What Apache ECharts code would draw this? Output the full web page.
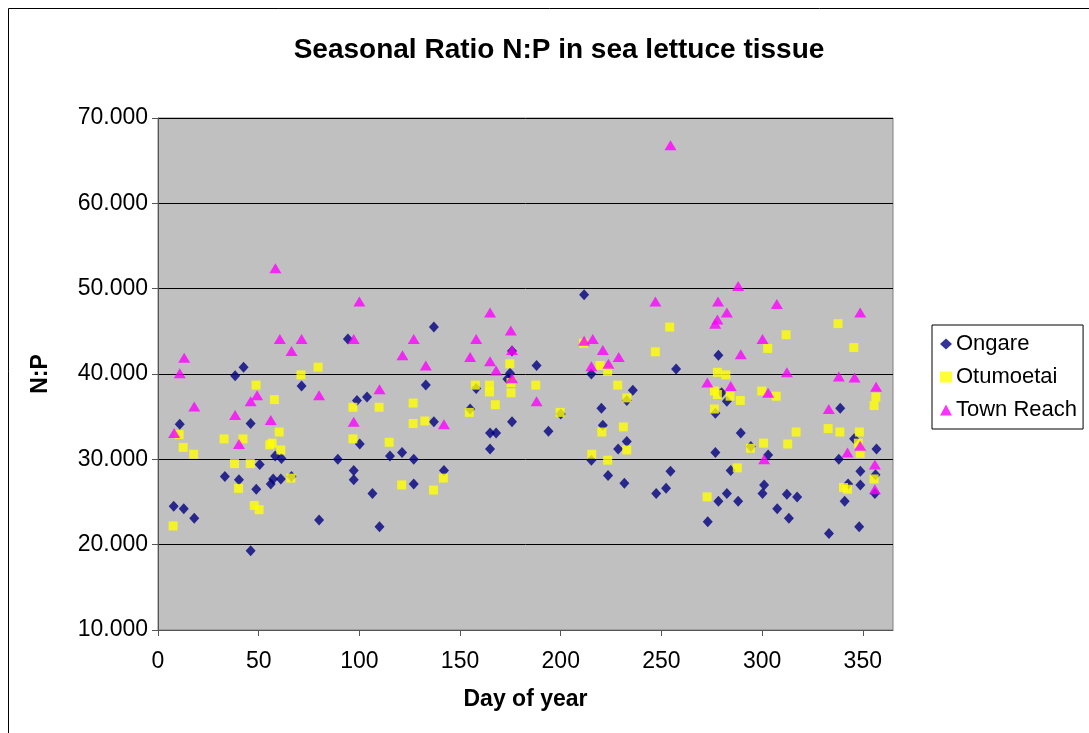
<!DOCTYPE html>
<html>
<head>
<meta charset="utf-8">
<script src="https://cdn.jsdelivr.net/npm/echarts@6/dist/echarts.min.js"></script>
<style>
    html, body { margin: 0; padding: 0; background: #fff; }
    #chart-np-ratio { width: 1089px; height: 733px; }
</style>
</head>
<body>
<div id="chart-np-ratio"></div>
<script>
// [day of year, N:P]
let ongareData = [
    [7.8, 24.5], [10.8, 34.1], [12.8, 24.2], [18, 23.1], [33.2, 28.0], [38.3, 39.8], [40.2, 27.6],
    [42.5, 40.8], [46, 34.2], [46, 19.3], [48.8, 26.5], [50.5, 29.4], [56, 27.1], [57.2, 27.7],
    [58.2, 30.4], [61, 27.7], [61.3, 30.1], [66.3, 28.0], [71.3, 38.6], [80, 22.9], [89.3, 30.0],
    [94.3, 44.1], [97.2, 28.7], [97.2, 27.6], [98.8, 36.9], [100.2, 31.8], [103.8, 37.3],
    [106.5, 26.0], [110, 22.1], [115.2, 30.4], [121.2, 30.8], [127, 30.0], [127, 27.1],
    [133, 38.7], [137, 45.5], [137, 34.4], [142, 28.7], [155, 35.9], [158, 38.3], [164.9, 33.1],
    [167.9, 33.1], [164.9, 31.2], [175.8, 42.7], [174.8, 40.1], [173.5, 39.4], [175.8, 34.4],
    [188, 41.0], [193.9, 33.3], [200, 35.3], [211.6, 49.3], [215.2, 40.0], [215.2, 29.9],
    [220.2, 36.0], [220.9, 34.0], [228.5, 31.2], [223.5, 28.1], [231.6, 27.2], [232.8, 32.1],
    [232.8, 36.9], [235.8, 38.1], [247.4, 26.0], [252.3, 26.6], [254.5, 28.6], [257.3, 40.6],
    [273, 22.7], [276.8, 30.8], [276.8, 35.4], [278.3, 42.2], [279.9, 37.8], [278.3, 25.1],
    [282.5, 36.8], [282.5, 26.0], [284.4, 28.7], [288.1, 25.1], [289.4, 33.1], [294.4, 31.5],
    [301, 27.0], [300.2, 26.0], [303, 30.5], [307.5, 24.2], [312.3, 25.9], [313.3, 23.1],
    [317.4, 25.6], [333.2, 21.3], [338.8, 36.0], [338.1, 30.0], [341, 25.1], [342.7, 27.1],
    [345.7, 32.4], [348.2, 22.1], [348.8, 28.6], [348.8, 27.0], [356.8, 31.2], [356.3, 28.2],
    [356, 26.0]
];
let otumoetaiData = [
    [7.5, 22.2], [10.5, 32.9], [12.5, 31.4], [17.7, 30.6], [32.8, 32.4], [38, 29.5], [40, 26.6],
    [42.2, 32.4], [45.8, 29.5], [47.8, 24.6], [50.2, 24.1], [48.7, 38.7], [57.8, 37.0],
    [55.5, 31.7], [56.7, 31.9], [60.2, 33.2], [61, 31.1], [66, 27.8], [71, 39.9], [79.5, 40.8],
    [96.8, 36.1], [96.8, 32.4], [109.8, 36.1], [114.8, 32.0], [121, 27.0], [126.7, 36.6],
    [126.7, 34.2], [132.5, 34.5], [136.8, 26.4], [141.7, 27.8], [154.6, 35.5], [157.6, 38.7],
    [164.6, 38.7], [164.6, 37.9], [167.5, 36.4], [174.7, 41.2], [175.3, 39.0], [175.3, 37.8],
    [187.6, 38.7], [199.7, 35.5], [211.3, 43.6], [215.4, 30.6], [219.5, 41.0], [223.3, 40.3],
    [228.3, 38.7], [220.4, 33.2], [223.3, 29.9], [231.1, 33.8], [232.8, 31.1], [232.8, 37.2],
    [247, 42.6], [254.1, 45.5], [272.7, 25.6], [276.3, 35.9], [276.3, 38.0], [277.8, 37.6],
    [277.8, 40.2], [282, 39.9], [284.1, 37.4], [289.2, 36.9], [287.7, 29.0], [294.2, 31.3],
    [299.8, 38.0], [300.7, 31.9], [302.8, 43.0], [307, 37.4], [311.9, 44.6], [312.7, 31.8],
    [316.9, 33.2], [332.8, 33.6], [337.7, 45.9], [338.6, 33.2], [340.4, 26.7], [342.4, 26.5],
    [345.5, 43.1], [348.3, 33.2], [347.8, 31.9], [348.7, 30.7], [355.6, 36.3], [356.5, 37.3],
    [355.6, 27.7]
];
let townReachData = [
    [8, 33.1], [10.8, 40.1], [13, 41.9], [18, 36.2], [38.3, 35.2], [40.2, 31.8], [46, 36.8],
    [49.2, 37.5], [56, 34.6], [58.3, 52.4], [60.5, 44.1], [66.3, 42.7], [71.3, 44.1], [80, 37.5],
    [97.2, 44.1], [100, 48.5], [97.2, 34.4], [110, 38.2], [121.4, 42.2], [127, 44.1], [133, 41.0],
    [142, 34.1], [155, 42.0], [158, 44.1], [164.9, 47.2], [164.9, 41.5], [167.9, 40.4],
    [175.2, 45.1], [175.8, 42.8], [175.8, 39.5], [188, 36.8], [211.6, 43.9], [215.9, 44.1],
    [215.2, 40.9], [220.9, 42.8], [223.7, 41.2], [228.8, 42.0], [247, 48.5], [254.5, 66.8],
    [272.8, 39.0], [276.7, 45.9], [277.8, 46.4], [278.1, 48.5], [282.5, 47.2], [284.4, 38.6],
    [288.1, 50.3], [289.4, 42.3], [300.2, 44.1], [301, 30.0], [303, 37.8], [307.3, 48.2],
    [312.3, 40.2], [333.1, 35.9], [338.1, 39.7], [342.4, 30.8], [345.9, 39.6], [348.7, 47.2],
    [348.7, 31.6], [356.6, 38.5], [356, 29.4], [356, 26.5]
];
let seriesNames = ['Ongare', 'Otumoetai', 'Town Reach'];

let fontFamily = 'Arial, "Liberation Sans", sans-serif';

function chartScatterNpRatio(element) {
    let chartDom = document.getElementById(element);
    let myChart = echarts.init(chartDom, null, {renderer: 'canvas'});
    let option = {
        backgroundColor: '#ffffff',
        animation: false,
        textStyle: {fontFamily: fontFamily},
        title: {
            text: 'Seasonal Ratio N:P in sea lettuce tissue',
            left: 554,
            top: 31,
            textAlign: 'center',
            textStyle: {fontSize: 28, fontWeight: 'bold', color: '#000', fontFamily: fontFamily}
        },
        legend: {
            orient: 'vertical',
            left: 932,
            top: 325,
            padding: [8, 6, 8, 8],
            itemGap: 11,
            itemWidth: 12,
            itemHeight: 11,
            backgroundColor: '#ffffff',
            borderColor: '#000000',
            borderWidth: 1,
            borderRadius: 0,
            data: seriesNames,
            textStyle: {fontSize: 22, color: '#000', fontFamily: fontFamily, padding: [0, 0, 0, -1]}
        },
        grid: {
            left: 158,
            right: 196,
            top: 118,
            bottom: 103,
            show: true,
            backgroundColor: '#c0c0c0',
            borderColor: '#808080',
            borderWidth: 1
        },
        xAxis: {
            type: 'value',
            min: 0,
            max: 365,
            interval: 50,
            name: 'Day of year',
            nameLocation: 'middle',
            nameGap: 58,
            nameTextStyle: {fontSize: 23, fontWeight: 'bold', color: '#000'},
            axisLine: {show: true, lineStyle: {color: '#555', width: 1}},
            axisTick: {show: true, inside: false, length: 6, lineStyle: {color: '#555'}},
            axisLabel: {fontSize: 23, color: '#000', margin: 20, showMaxLabel: false},
            splitLine: {show: false}
        },
        yAxis: {
            type: 'value',
            min: 10,
            max: 70,
            interval: 10,
            name: 'N:P',
            nameLocation: 'middle',
            nameGap: 106,
            nameTextStyle: {fontSize: 23, fontWeight: 'bold', color: '#000'},
            axisLine: {show: true, lineStyle: {color: '#555', width: 1}},
            axisTick: {show: true, inside: false, length: 6, lineStyle: {color: '#555'}},
            axisLabel: {
                fontSize: 23,
                color: '#000',
                margin: 10,
                formatter: function (value) {
                    return value.toFixed(3);
                }
            },
            splitLine: {show: true, lineStyle: {color: '#000', width: 1}}
        },
        series: [
            {
                name: seriesNames[0],
                type: 'scatter',
                symbol: 'diamond',
                symbolSize: [10, 11],
                itemStyle: {color: '#000080'},
                data: ongareData
            },
            {
                name: seriesNames[1],
                type: 'scatter',
                symbol: 'rect',
                symbolSize: 9,
                itemStyle: {color: '#ffff00'},
                data: otumoetaiData
            },
            {
                name: seriesNames[2],
                type: 'scatter',
                symbol: 'triangle',
                symbolSize: [12, 10],
                itemStyle: {color: '#ff00ff'},
                data: townReachData
            }
        ],
        graphic: [
            {
                type: 'rect',
                silent: true,
                shape: {x: 8.5, y: 8.5, width: 1200, height: 800},
                style: {fill: null, stroke: '#000', lineWidth: 1}
            }
        ]
    };
    option && myChart.setOption(option);
}

chartScatterNpRatio('chart-np-ratio');
</script>
</body>
</html>
